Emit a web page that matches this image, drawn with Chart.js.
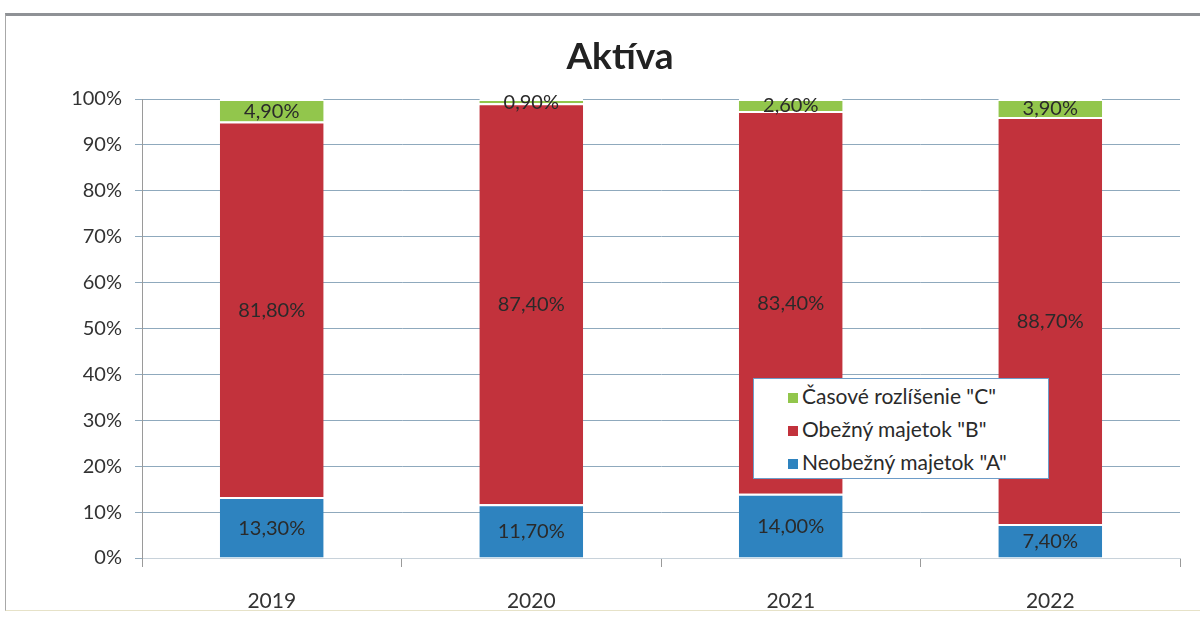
<!DOCTYPE html>
<html>
<head>
<meta charset="utf-8">
<script src="https://cdn.jsdelivr.net/npm/chart.js@4/dist/chart.umd.min.js"></script>
<style>
  html, body { margin: 0; padding: 0; background: #fff; }
  #wrap { position: relative; width: 1200px; height: 627px; overflow: hidden; }
  #c { position: absolute; left: 0; top: 0; }
  #frame { position: absolute; left: 5px; top: 13px; width: 1200px; height: 598px; border: 1px solid #a8a8a8; border-top: 3px solid #8f9296; border-bottom-color: #e6e2c8; pointer-events: none; box-sizing: border-box; }
  #legend { position: absolute; left: 753px; top: 378px; width: 296px; height: 101px; background: #fff; border: 1px solid #6d9cc8; box-sizing: border-box; font-family: Lato, "Open Sans", sans-serif; font-size: 21px; color: #2a2a2a; }
  .li { position: absolute; left: 34px; height: 26px; line-height: 26px; white-space: nowrap; }
  .sw { display: inline-block; width: 10px; height: 10px; margin-right: 4px; vertical-align: middle; position: relative; top: -1px; }
</style>
</head>
<body>
<div id="wrap">
  <canvas id="c" width="1200" height="627"></canvas>
  <div id="frame"></div>
  <div id="legend"></div>
</div>
<script>
const categories = ["2019", "2020", "2021", "2022"];
const neobeznyA = [13.3, 11.7, 14.0, 7.4];
const obeznyB = [81.8, 87.4, 83.4, 88.7];
const casoveC = [4.9, 0.9, 2.6, 3.9];
const yTicks = [0, 10, 20, 30, 40, 50, 60, 70, 80, 90, 100];
const seriesNames = ['Neobežný majetok "A"', 'Obežný majetok "B"', 'Časové rozlíšenie "C"'];
const seriesColors = ["#2e83bf", "#c2323c", "#92c64c"];
const chartTitle = "Aktíva";

const FONT = "Lato, 'Open Sans', sans-serif";

const labelPlugin = {
  id: "segLabels",
  afterDatasetsDraw(chart) {
    const ctx = chart.ctx;
    ctx.save();
    ctx.font = "20px " + FONT;
    ctx.fillStyle = "#2a2a2a";
    ctx.textAlign = "center";
    ctx.textBaseline = "middle";
    chart.data.datasets.forEach((ds, di) => {
      const meta = chart.getDatasetMeta(di);
      meta.data.forEach((el, i) => {
        const v = ds.data[i];
        const y = (el.y + el.base) / 2;
        ctx.fillText(v.toFixed(2).replace(".", ",") + "%", el.x, y + 1);
      });
    });
    ctx.restore();
  },
  afterDraw(chart) {
    const ctx = chart.ctx;
    ctx.save();
    ctx.font = "bold 37px " + FONT;
    ctx.fillStyle = "#222";
    ctx.textAlign = "center";
    ctx.textBaseline = "middle";
    ctx.fillText(chartTitle, 620, 57);
    ctx.restore();
  }
};

const chart = new Chart(document.getElementById("c"), {
  type: "bar",
  data: {
    labels: categories,
    datasets: [
      { label: seriesNames[0], data: neobeznyA, backgroundColor: seriesColors[0] },
      { label: seriesNames[1], data: obeznyB, backgroundColor: seriesColors[1] },
      { label: seriesNames[2], data: casoveC, backgroundColor: seriesColors[2] }
    ].map(d => Object.assign(d, {
      borderColor: "#ffffff",
      borderWidth: { top: 2, bottom: 0, left: 0, right: 0 },
      borderSkipped: false,
      categoryPercentage: 1,
      barPercentage: 0.4
    }))
  },
  options: {
    responsive: false,
    animation: false,
    layout: { padding: { left: 0, right: 20, top: 99, bottom: 0 } },
    plugins: {
      legend: { display: false },
      tooltip: { enabled: false },
      title: { display: false }
    },
    scales: {
      x: {
        stacked: true,
        afterFit(s) { s.height = 69; },
        grid: { display: true, drawOnChartArea: false, drawTicks: true, tickLength: 9, tickColor: "#9a9a9a", offset: true },
        border: { display: true, color: "#c8d2da" },
        ticks: { color: "#333", font: { family: FONT, size: 21 }, padding: 22 }
      },
      y: {
        stacked: true,
        min: 0,
        max: 100,
        afterFit(s) { s.width = 142; },
        afterBuildTicks(s) { s.ticks = yTicks.map(v => ({ value: v })); },
        grid: { color: "#8fa9bd", lineWidth: 1, drawTicks: true, tickLength: 7, tickColor: "#8fa9bd" },
        border: { display: true, color: "#9a9a9a" },
        ticks: { color: "#333", font: { family: FONT, size: 20 }, padding: 13, callback: v => v + "%" }
      }
    }
  },
  plugins: [labelPlugin]
});

// legend built from the chart's datasets (reversed order like the original)
const leg = document.getElementById("legend");
const tops = [4, 37, 70];
chart.data.datasets.slice().reverse().forEach((ds, i) => {
  const d = document.createElement("div");
  d.className = "li";
  d.style.top = tops[i] + "px";
  d.innerHTML = '<span class="sw" style="background:' + ds.backgroundColor + '"></span>';
  d.appendChild(document.createTextNode(ds.label));
  leg.appendChild(d);
});
</script>
</body>
</html>
